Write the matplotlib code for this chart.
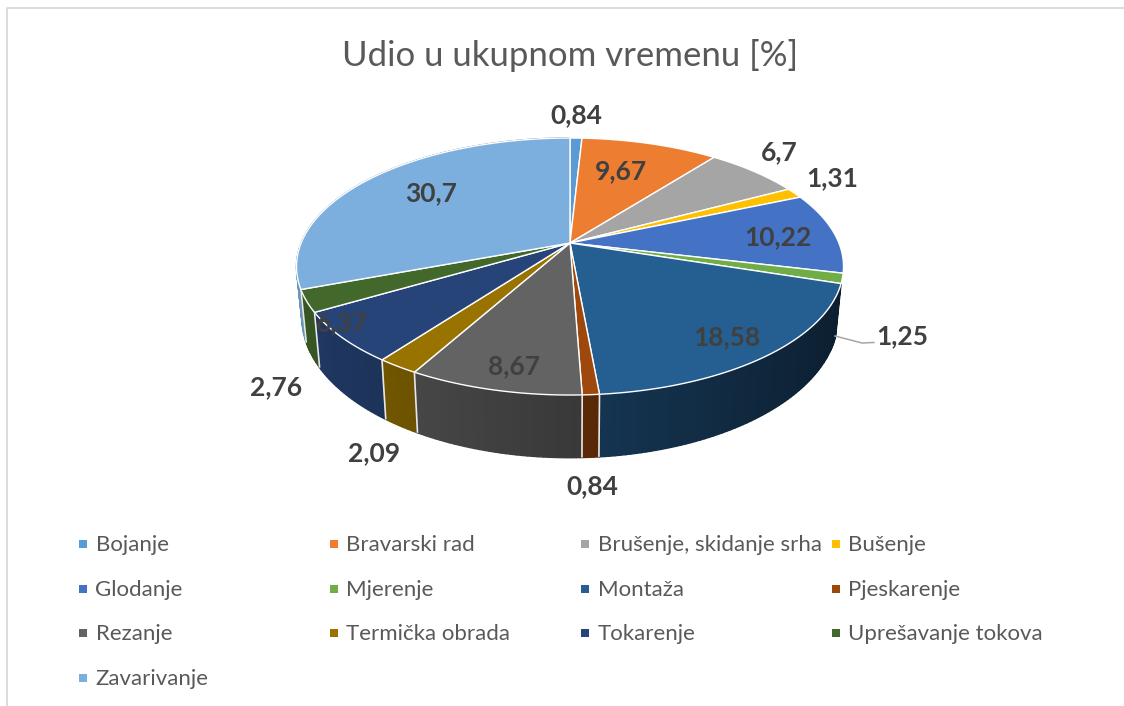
import matplotlib
matplotlib.use('Agg')
import matplotlib.pyplot as plt
import numpy as np

plt.rcParams['font.family'] = ['Lato', 'DejaVu Sans']

categories = ['Bojanje', 'Bravarski rad', 'Brušenje, skidanje srha', 'Bušenje',
              'Glodanje', 'Mjerenje', 'Montaža', 'Pjeskarenje',
              'Rezanje', 'Termička obrada', 'Tokarenje', 'Uprešavanje tokova',
              'Zavarivanje']
values = [0.84, 9.67, 6.7, 1.31, 10.22, 1.25, 18.58, 0.84, 8.67, 2.09, 6.37, 2.76, 30.7]
value_labels = ['0,84', '9,67', '6,7', '1,31', '10,22', '1,25', '18,58', '0,84',
                '8,67', '2,09', '6,37', '2,76', '30,7']
title = 'Udio u ukupnom vremenu [%]'

colors = ['#5b9bd5', '#ed7d31', '#a5a5a5', '#ffc000', '#4472c4', '#70ad47', '#255e91',
          '#9e480e', '#636363', '#997300', '#264478', '#43682b', '#7cafdd']

# label centres, placed by hand like the ones in the chart
label_xy = [(576, 115), (621, 171), (779, 152), (832, 178), (778, 237), (902, 336),
            (727, 337), (592, 486), (514, 366), (374, 453), (342, 323), (276, 387), (431, 193)]

# perspective of the pie, in pixels
APEX_X, APEX_Y = 570, 243
SCALE_X, SCALE_Y, PERSP = 268.9, 124.2, 0.183
# walls right of this angle are hidden behind the rim
WALL_START = 0.61 * np.pi


def top_rim(theta):
    """theta runs clockwise from 12 o'clock"""
    u, v = np.sin(theta), np.cos(theta)
    d = 1 + PERSP * v
    return APEX_X + SCALE_X * u / d, APEX_Y - SCALE_Y * v / d


def bottom_rim(theta):
    x, y = top_rim(theta)
    return APEX_X + 0.98 * (x - APEX_X), APEX_Y + 49 + 1.09 * (y - APEX_Y)


def darker(color, f):
    return tuple(min(1, c * f) for c in matplotlib.colors.to_rgb(color))


fig = plt.figure(figsize=(11.24, 7.06), dpi=100)
ax = fig.add_axes([0, 0, 1, 1])
ax.set_xlim(0, 1124)
ax.set_ylim(706, 0)
ax.axis('off')

# chart frame
ax.plot([6.5, 6.5, 1124], [706, 8, 8], color='#d9d9d9', lw=1.3)

edges = np.cumsum([0] + values) / sum(values) * 2 * np.pi

# outer wall, back wedges first
order = sorted(range(len(values)), key=lambda i: -np.cos((edges[i] + edges[i + 1]) / 2))
for i in order:
    if edges[i + 1] < WALL_START:
        continue
    n = max(2, int((edges[i + 1] - edges[i]) * 60))
    t = np.linspace(edges[i], edges[i + 1], n + 1)
    for a, b in zip(t[:-1], t[1:]):
        xa, ya = top_rim(np.array([a, b]))
        xb, yb = bottom_rim(np.array([a, b]))
        shade = 0.58 - 0.27 * np.sin((a + b) / 2)
        c = darker(colors[i], shade)
        ax.fill([xa[0], xa[1], xb[1], xb[0]], [ya[0], ya[1], yb[1], yb[0]],
                color=c, lw=1.0)

# lines between the wedges on the wall
for i in range(len(values)):
    if edges[i] > WALL_START and np.cos(edges[i]) < 0.1:
        xa, ya = top_rim(edges[i])
        xb, yb = bottom_rim(edges[i])
        ax.plot([xa, xb], [ya, yb], color='#e8e8e8', lw=1.2, solid_capstyle='butt')

# top faces
for i in range(len(values)):
    t = np.linspace(edges[i], edges[i + 1], 80)
    x, y = top_rim(t)
    ax.fill(np.r_[APEX_X, x], np.r_[APEX_Y, y], facecolor=colors[i], edgecolor='white',
            lw=1.0, joinstyle='round')

# leader line of the 1,25 label
ax.plot([835, 862, 874], [336, 343, 342.5], color='#a6a6a6', lw=1.1)

ax.text(570, 55, title, ha='center', va='center', fontsize=25, color='#595959')

for (lx, ly), s in zip(label_xy, value_labels):
    ax.text(lx, ly, s, ha='center', va='center', fontsize=19, color='#404040', weight='bold')

# legend
col_x = [79, 330, 581, 832]
row_y = [544, 589, 633, 678]
for i, name in enumerate(categories):
    x0, y0 = col_x[i % 4], row_y[i // 4]
    ax.fill([x0, x0 + 8, x0 + 8, x0], [y0 - 4, y0 - 4, y0 + 4, y0 + 4], color=colors[i], lw=0)
    ax.text(x0 + 16.5, y0 + 1, name, ha='left', va='center', fontsize=16, color='#595959')

fig.savefig('out.png', dpi=100)
